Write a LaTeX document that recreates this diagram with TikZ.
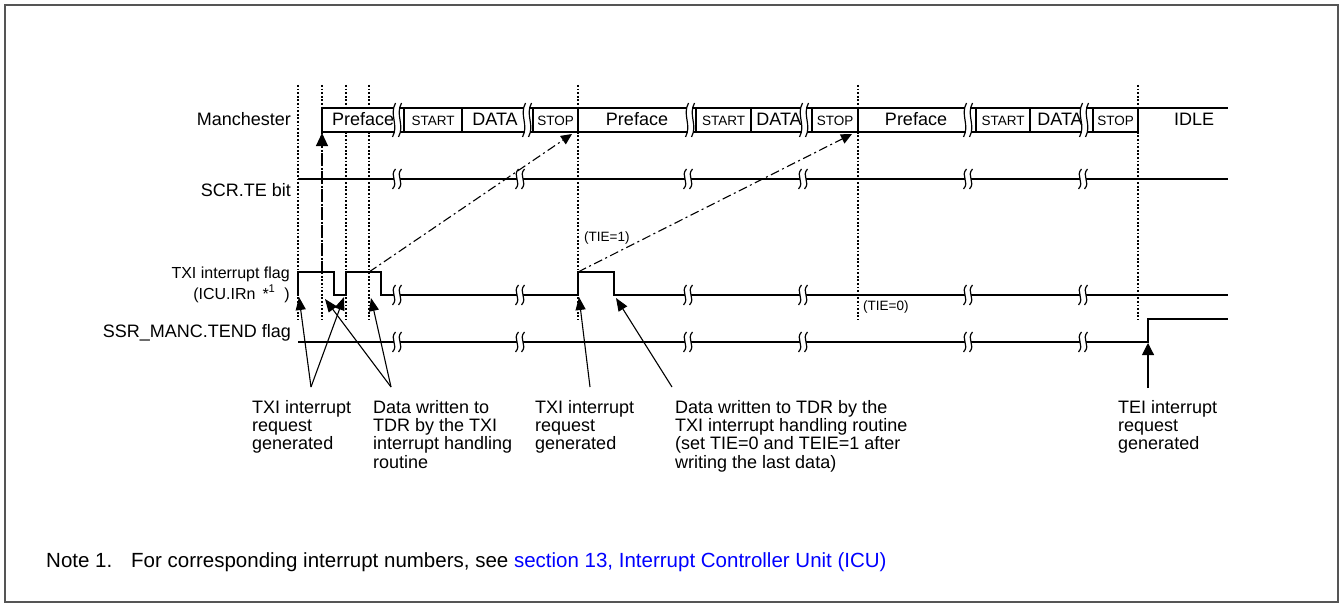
\documentclass[tikz,border=0pt]{standalone}
\usepackage{fontspec}
\setmainfont{Liberation Sans}
\usetikzlibrary{arrows.meta,positioning}
\definecolor{framegray}{RGB}{85,85,85}
\definecolor{refblue}{RGB}{0,0,255}
\tikzset{
  sig/.style={black, line width=1.7pt},
  vdot/.style={black, line width=1.4pt, dash pattern=on 1.8pt off 1.8pt},
  chain/.style={black, line width=1.1pt, dash pattern=on 9pt off 3.5pt on 2pt off 3.5pt},
  callout/.style={black, line width=1.1pt, -{Triangle[length=13pt,width=10pt]}},
  rlab/.style={font=\fontsize{18}{18.3}\selectfont, inner sep=0pt, anchor=base east},
  rsml/.style={font=\fontsize{16}{16}\selectfont, inner sep=0pt, anchor=base east},
  cbig/.style={font=\fontsize{18}{18}\selectfont, inner sep=0pt, anchor=base},
  csml/.style={font=\fontsize{13.5}{13.5}\selectfont, inner sep=0pt, anchor=base},
  tie/.style={font=\fontsize{13.5}{13.5}\selectfont, inner sep=0pt, anchor=base west},
  ann/.style={font=\fontsize{18}{18.3}\selectfont, inner sep=0pt, anchor=north west, align=left},
  notel/.style={font=\fontsize{20.5}{20.5}\selectfont, inner sep=0pt, anchor=base west},
}
\newcommand{\sigbreak}[3]{%
  \fill[white] ({#1-1.5},{#2-#3}) .. controls ({#1-8},{#2-0.3*#3}) and ({#1+2},{#2+0.3*#3}) .. ({#1-4.5},{#2+#3})
    -- ({#1+1.5},{#2+#3}) .. controls ({#1+8},{#2+0.3*#3}) and ({#1-2},{#2-0.3*#3}) .. ({#1+4.5},{#2-#3}) -- cycle;
  \draw[black, line width=1.2pt] ({#1-1.5},{#2-#3}) .. controls ({#1-8},{#2-0.3*#3}) and ({#1+2},{#2+0.3*#3}) .. ({#1-4.5},{#2+#3});
  \draw[black, line width=1.2pt] ({#1+4.5},{#2-#3}) .. controls ({#1-2},{#2-0.3*#3}) and ({#1+8},{#2+0.3*#3}) .. ({#1+1.5},{#2+#3});
}

\begin{document}
\begin{tikzpicture}[x=1pt, y=-1pt]
  \useasboundingbox (0,0) rectangle (1343,607);
  \draw[framegray, line width=2pt] (5,5) rectangle (1338,602);
  \foreach \x in {298,322,346,369,578,858,1138}
    \draw[vdot] (\x,85) -- (\x,320);
  % Manchester frame
  \fill[white] (322,108) rectangle (1138,132);
  \draw[sig] (322,108) -- (1228,108);
  \draw[sig] (322,132) -- (1138,132);
  \foreach \x in {322,404,462,533,578,696,751,812,858,976,1030,1093,1138}
    \draw[sig] (\x,108) -- (\x,132);
  % signals
  \draw[sig] (298,179) -- (1228,179);
  \draw[sig] (298,295) -- (298,272) -- (334,272) -- (334,295) -- (346,295) -- (346,272)
    -- (381,272) -- (381,295) -- (578,295) -- (578,272) -- (614,272) -- (614,295) -- (1228,295);
  \draw[sig] (298,342) -- (1148,342) -- (1148,319) -- (1228,319);
  \foreach \x in {397,527,690,804,968,1084}
    \sigbreak{\x}{120}{17};
  \foreach \y in {179,295,342}
    \foreach \x in {397,520,688,803,968,1083}
      \sigbreak{\x}{\y}{10};

  \node[rlab] (lman) at (291,125) {Manchester};
  \node[rlab] (lte) at (291,196) {SCR.TE bit};
  \node[rsml] (ltxi) at (290,278) {TXI interrupt flag};
  \node[rsml] (licu) at (290,299) {(ICU.IRn\hspace{7pt}*\textsuperscript{1}\hspace{9pt})};
  \node[rlab] (ltend) at (291,337) {SSR\_MANC.TEND flag};

  \node[cbig, anchor=base west] (pf1) at (332,126) {Preface};
  \node[csml] (st1) at (433,125) {START};
  \node[cbig] (dt1) at (495,126) {DATA};
  \node[csml] (sp1) at (555.5,125) {STOP};
  \node[cbig] (pf2) at (637,126) {Preface};
  \node[csml] (st2) at (723.5,125) {START};
  \node[cbig] (dt2) at (779,126) {DATA};
  \node[csml] (sp2) at (835,125) {STOP};
  \node[cbig] (pf3) at (916,126) {Preface};
  \node[csml] (st3) at (1003,125) {START};
  \node[cbig] (dt3) at (1060,126) {DATA};
  \node[csml] (sp3) at (1115.5,125) {STOP};
  \node[cbig] (idle) at (1194,126) {IDLE};

  \node[tie] (tie1) at (584,241) {(TIE=1)};
  \node[tie] (tie0) at (863,310) {(TIE=0)};

  \coordinate (irq) at (322,272);
  \coordinate (mstart) at (322,133);
  \coordinate (fsA) at (369,272);
  \coordinate (stopA) at (572,134);
  \coordinate (fsB) at (578,272);
  \coordinate (stopB) at (852,134);
  \draw[chain, -{Triangle[length=13pt,width=12pt]}] (irq) -- (mstart);
  \draw[chain, -{Triangle[length=11pt,width=10pt]}] (fsA) -- (stopA);
  \draw[chain, -{Triangle[length=11pt,width=10pt]}] (fsB) -- (stopB);

  \node[ann] (treq1) at (252,400) {TXI interrupt\\request\\generated};
  \node[ann] (dwr1) at (373,400) {Data written to\\TDR by the TXI\\interrupt handling\\routine};
  \node[ann] (treq2) at (535,400) {TXI interrupt\\request\\generated};
  \node[ann] (dwr2) at (675,400) {Data written to TDR by the\\TXI interrupt handling routine\\(set TIE=0 and TEIE=1 after\\writing the last data)};
  \node[ann] (tei) at (1118,400) {TEI interrupt\\request\\generated};

  \coordinate (reqA) at (311,387);
  \coordinate (wrA) at (391,387);
  \coordinate (reqB) at (590,387);
  \coordinate (wrB) at (672,387);
  \coordinate (teiA) at (1148,388);
  \coordinate (rise1) at (299,297);
  \coordinate (rise2) at (344,297);
  \coordinate (fall1) at (325,299);
  \coordinate (fall2) at (371,298);
  \coordinate (rise3) at (579,297);
  \coordinate (fall3) at (616,298);
  \coordinate (tendup) at (1148,343);
  \draw[callout] (reqA) -- (rise1);
  \draw[callout] (reqA) -- (rise2);
  \draw[callout] (wrA) -- (fall1);
  \draw[callout] (wrA) -- (fall2);
  \draw[callout] (reqB) -- (rise3);
  \draw[callout] (wrB) -- (fall3);
  \draw[callout, -{Triangle[length=12pt,width=12pt]}] (teiA) -- (tendup);

  \node[notel] (note) at (46,567) {Note 1.};
  \node[notel] (notetxt) at (131,567) {For corresponding interrupt numbers, see \textcolor{refblue}{section 13, Interrupt Controller Unit (ICU)}};
\end{tikzpicture}
\end{document}
